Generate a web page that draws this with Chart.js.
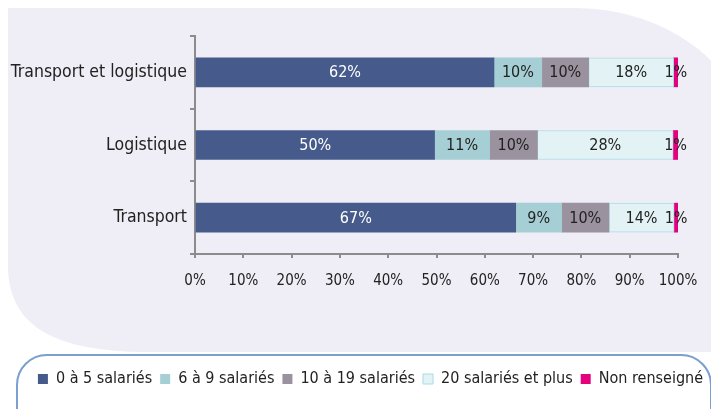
<!DOCTYPE html>
<html>
<head>
<meta charset="utf-8">
<script src="https://cdn.jsdelivr.net/npm/chart.js@4.4.1/dist/chart.umd.min.js"></script>
<style>
  html, body { margin: 0; padding: 0; background: #fff; }
  #wrap { width: 711px; height: 409px; }
</style>
</head>
<body>
<div id="wrap"><canvas id="chart" width="711" height="409"></canvas></div>
<script>
const categories = ['Transport et logistique', 'Logistique', 'Transport'];
const seriesNames = ['0 à 5 salariés', '6 à 9 salariés', '10 à 19 salariés', '20 salariés et plus', 'Non renseigné'];

// shares (%) per category
const size0to5 = [61.9, 49.6, 66.4];
const size6to9 = [9.9, 11.4, 9.5];
const size10to19 = [9.7, 9.9, 9.8];
const size20plus = [17.6, 28.1, 13.5];
const notGiven = [0.9, 1.0, 0.8];

// percentages printed on the bars
const labels0to5 = ['62%', '50%', '67%'];
const labels6to9 = ['10%', '11%', '9%'];
const labels10to19 = ['10%', '10%', '10%'];
const labels20plus = ['18%', '28%', '14%'];
const labelsNotGiven = ['1%', '1%', '1%'];

const xTicks = [0, 10, 20, 30, 40, 50, 60, 70, 80, 90, 100];

const FONT = "'DejaVu Sans Condensed', 'Liberation Sans Narrow', 'DejaVu Sans', sans-serif";
const AXIS = '#8c8c8c';

Chart.defaults.font.family = FONT;
Chart.defaults.color = '#222';

const barLabels = [labels0to5, labels6to9, labels10to19, labels20plus, labelsNotGiven];

// lavender panel behind the plot + the rounded legend frame
const backdrop = {
  id: 'backdrop',
  beforeDraw(chart) {
    const ctx = chart.ctx;
    ctx.save();
    ctx.fillStyle = '#efedf5';
    ctx.beginPath();
    ctx.moveTo(8, 8);
    ctx.lineTo(575, 8);
    ctx.ellipse(575, 150, 175, 142, 0, -Math.PI / 2, 0);
    ctx.lineTo(750, 352);
    ctx.lineTo(150, 352);
    ctx.bezierCurveTo(60, 352, 8, 330, 8, 265);
    ctx.closePath();
    ctx.fill();

    ctx.strokeStyle = '#7b9fcf';
    ctx.lineWidth = 2;
    ctx.beginPath();
    ctx.roundRect(17, 355, 694, 90, 30);
    ctx.fillStyle = '#fff';
    ctx.fill();
    ctx.stroke();
    ctx.restore();
  }
};

const segmentText = {
  id: 'segmentText',
  afterDatasetsDraw(chart) {
    const ctx = chart.ctx;
    ctx.save();
    ctx.font = "16px " + FONT;
    ctx.textAlign = 'center';
    ctx.textBaseline = 'middle';
    chart.data.datasets.forEach((ds, i) => {
      const meta = chart.getDatasetMeta(i);
      meta.data.forEach((bar, j) => {
        ctx.fillStyle = i === 0 ? '#fff' : '#222';
        ctx.fillText(barLabels[i][j], (bar.x + bar.base) / 2, bar.y + 1);
      });
    });
    ctx.restore();
  }
};

new Chart(document.getElementById('chart'), {
  type: 'bar',
  data: {
    labels: categories,
    datasets: [
      { label: seriesNames[0], data: size0to5, backgroundColor: '#465b8c', borderWidth: 0 },
      { label: seriesNames[1], data: size6to9, backgroundColor: '#a5cfd5', borderWidth: 0 },
      { label: seriesNames[2], data: size10to19, backgroundColor: '#9a929e', borderWidth: 0 },
      { label: seriesNames[3], data: size20plus, backgroundColor: '#e3f3f5', borderColor: '#a8dbe7', borderWidth: 1, borderSkipped: false },
      { label: seriesNames[4], data: notGiven, backgroundColor: '#e5007d', borderWidth: 0 }
    ]
  },
  options: {
    indexAxis: 'y',
    responsive: false,
    animation: false,
    devicePixelRatio: 1,
    barThickness: 29,
    layout: { padding: { top: 36, left: 10, right: 0, bottom: 12 } },
    scales: {
      x: {
        stacked: true,
        min: 0,
        max: 100,
        afterBuildTicks: (scale) => { scale.ticks = xTicks.map(v => ({ value: v })); },
        afterFit: (scale) => { scale.height = 109; scale.paddingRight = 33; },
        ticks: {
          padding: 14,
          font: { size: 15 },
          color: '#222',
          callback: (v) => v + '%'
        },
        grid: { drawOnChartArea: false, tickLength: 4, color: AXIS, lineWidth: 2 },
        border: { color: AXIS, width: 2 }
      },
      y: {
        stacked: true,
        afterFit: (scale) => { scale.width = 185; },
        ticks: { padding: 3, font: { size: 17.5 }, color: '#222' },
        grid: { drawOnChartArea: false, tickLength: 5, color: AXIS, lineWidth: 2, offset: true },
        border: { color: AXIS, width: 2 }
      }
    },
    plugins: {
      tooltip: { enabled: false },
      legend: {
        position: 'bottom',
        align: 'end',
        labels: {
          boxWidth: 10,
          boxHeight: 10,
          padding: 8,
          font: { size: 16 },
          color: '#222'
        }
      }
    }
  },
  plugins: [backdrop, segmentText]
});
</script>
</body>
</html>
